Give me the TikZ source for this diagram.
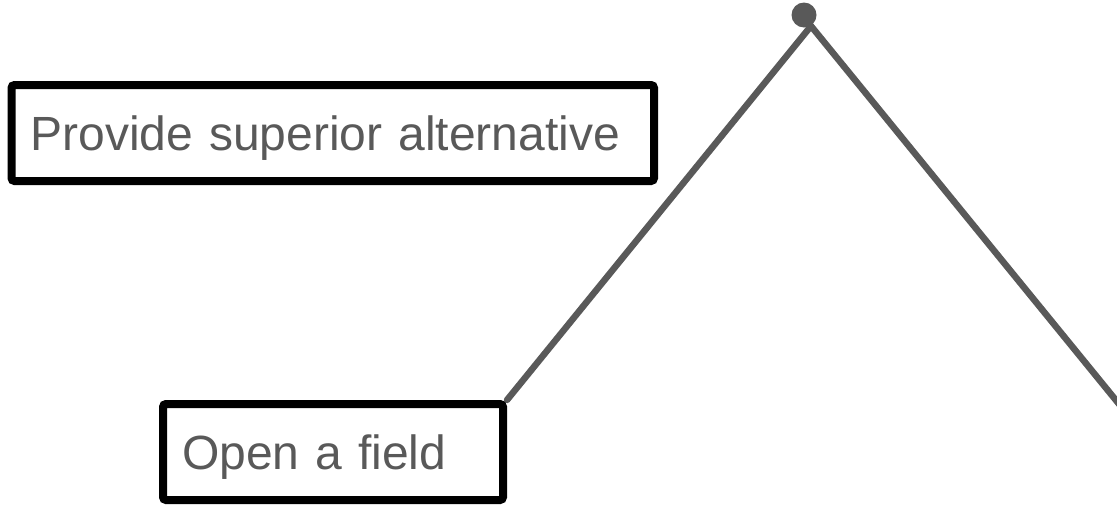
\documentclass[tikz,border=0pt]{standalone}
\usepackage{fontspec}
\usetikzlibrary{backgrounds}
\setmainfont{Liberation Sans}
\definecolor{ink}{HTML}{595959}
\begin{document}
\begin{tikzpicture}[x=1pt,y=-1pt,
  labelbox/.style={draw=black, line width=8pt, rounded corners=3pt,
    text=ink, font=\fontsize{48}{57}\selectfont,
    align=left, inner xsep=19pt, inner ysep=0pt,
    text height=34.5pt, text depth=0pt, minimum height=96pt},
  ridge/.style={draw=ink, line width=6.5pt, line cap=round}]
  \useasboundingbox (0,0) rectangle (1117,504);
  \clip (0,0) rectangle (1117,504);

  \node[labelbox, text width=604.5pt] (alt) at (332.75,133) {Provide superior alternative};
  \node[labelbox, text width=302pt] (open) at (333,452) {Open a field};

  \coordinate (apex) at (811,26);
  \coordinate (rend) at (1141,431);

  % the ridge runs under the box border, so it starts at the box corner
  \begin{scope}[on background layer]
    \draw[ridge] (open.north east) -- (apex) -- (rend);
  \end{scope}
  \fill[ink] (804,15) circle (12.5);
\end{tikzpicture}
\end{document}
